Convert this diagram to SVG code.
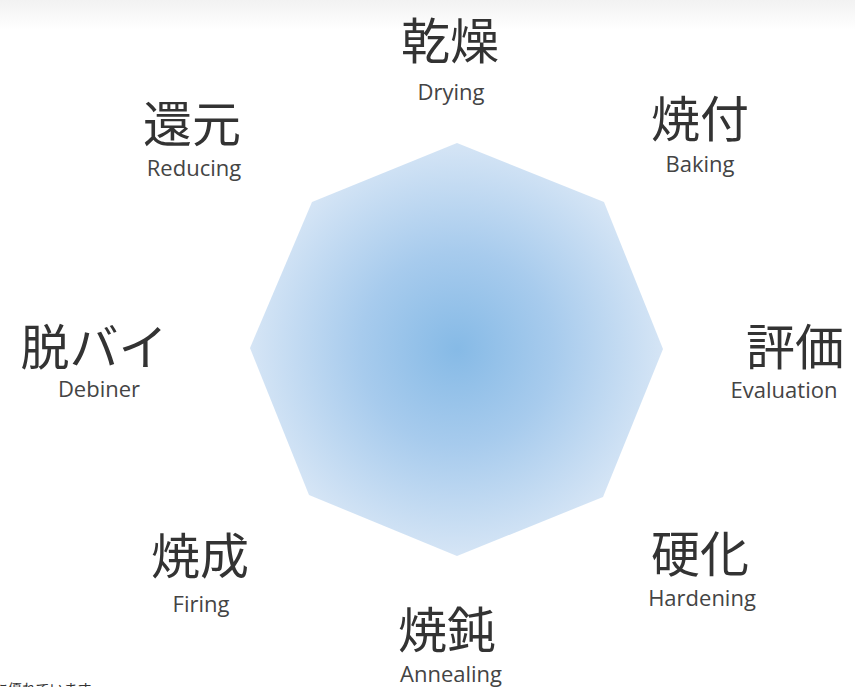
<svg xmlns="http://www.w3.org/2000/svg" width="855" height="687" viewBox="0 0 855 687">
<defs>
<linearGradient id="topband" x1="0" y1="0" x2="0" y2="1">
<stop offset="0" stop-color="#f2f2f2"/>
<stop offset="1" stop-color="#ffffff"/>
</linearGradient>
<radialGradient id="oct" cx="457" cy="349" r="215" gradientUnits="userSpaceOnUse">
<stop offset="0" stop-color="#86bae6"/>
<stop offset="0.45" stop-color="#a7cbed"/>
<stop offset="1" stop-color="#d9e7f6"/>
</radialGradient>
<style>
.jp{font-family:"Noto Sans CJK JP","Noto Sans",sans-serif;font-size:49px;fill:#333;text-anchor:middle}
.en{font-family:"Open Sans","Noto Sans",sans-serif;font-size:22px;fill:#444;text-anchor:middle}
.note{font-family:"Noto Sans CJK JP",sans-serif;font-size:14px;fill:#333}
</style>
</defs>
<rect x="0" y="0" width="855" height="687" fill="#ffffff"/>
<rect x="0" y="0" width="855" height="30" fill="url(#topband)"/>
<g id="octagon">
<polygon points="457,143 604,202 663,349 603,497 457,556 309,495 250,348 312,202" fill="url(#oct)"/>
</g>
<g id="connectors"></g>
<g id="drying"><text class="jp" x="450" y="59">乾燥</text><text class="en" x="451" y="100">Drying</text></g>
<g id="baking"><text class="jp" x="700" y="137">焼付</text><text class="en" x="700" y="172">Baking</text></g>
<g id="evaluation"><text class="jp" x="795" y="365">評価</text><text class="en" x="784" y="398">Evaluation</text></g>
<g id="hardening"><text class="jp" x="700" y="572">硬化</text><text class="en" x="702" y="606">Hardening</text></g>
<g id="annealing"><text class="jp" x="447" y="648">焼鈍</text><text class="en" x="451" y="682">Annealing</text></g>
<g id="firing"><text class="jp" x="200" y="574">焼成</text><text class="en" x="201" y="612">Firing</text></g>
<g id="debiner"><text class="jp" x="94" y="365">脱バイ</text><text class="en" x="99" y="397">Debiner</text></g>
<g id="reducing"><text class="jp" x="192" y="142">還元</text><text class="en" x="194" y="176">Reducing</text></g>
<text class="note" x="-6" y="694">に優れています</text>
</svg>
